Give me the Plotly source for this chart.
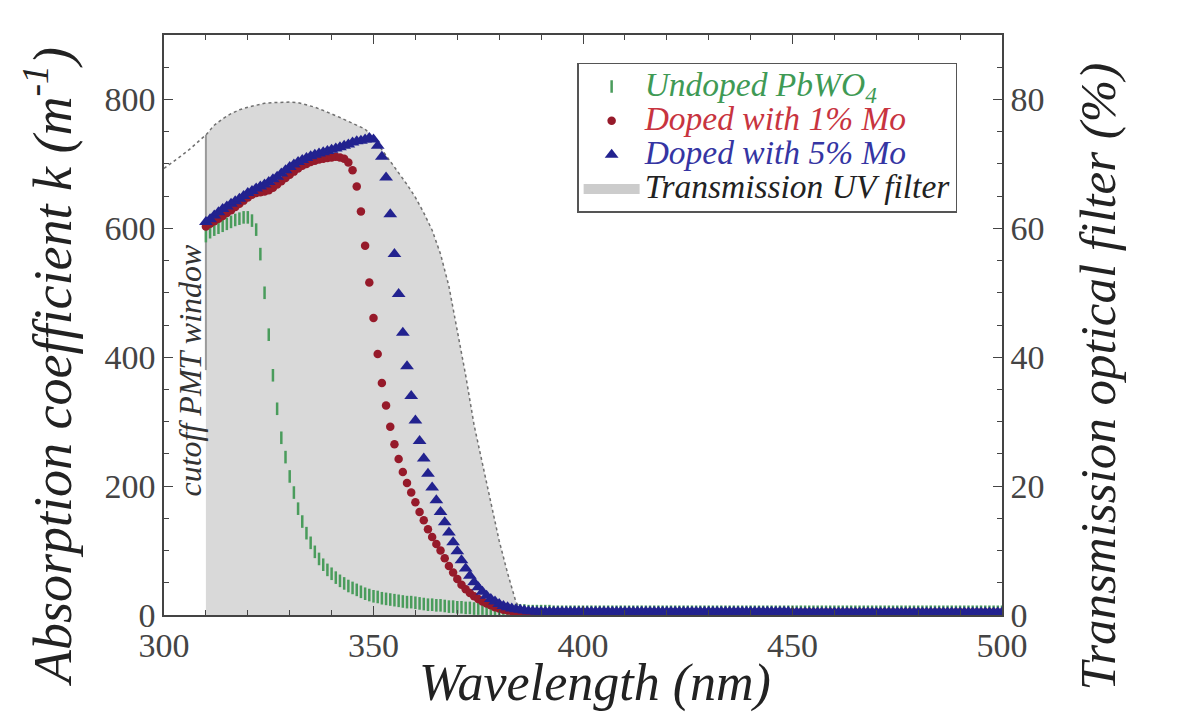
import plotly.graph_objects as go

# ---------------- data ----------------
wavelength = list(range(310, 501))  # 1 nm sampling grid, 310..500 nm

k_undoped = [
    588, 594, 598, 601, 604, 607, 610, 613, 615, 617,  # 310
    617, 612, 598, 560, 500, 435, 372, 320, 275, 245,  # 320
    215, 190, 165, 145, 127, 112, 98, 87, 78, 70,      # 330
    64, 58, 53, 49, 45, 42, 39, 36, 33, 31,            # 340
    29, 28, 26, 25, 24, 23, 22, 21, 20, 20,            # 350
    19, 18, 17, 16, 16, 15, 15, 14, 13, 13,            # 360
    12, 12, 11, 11, 10, 10, 10, 9, 9, 9,               # 370
    8, 8, 8, 7, 7, 7, 7, 6, 6, 6,                      # 380
    6, 6, 6, 5, 5, 5, 5, 5, 5, 5,                      # 390
    5, 5, 5, 5, 5, 5, 5, 5, 5, 5,                      # 400
    5, 5, 5, 5, 5, 5, 5, 5, 5, 5,                      # 410
    5, 5, 5, 5, 5, 5, 5, 5, 5, 5,                      # 420
    5, 5, 5, 5, 5, 5, 5, 5, 5, 5,                      # 430
    5, 5, 5, 5, 5, 5, 5, 5, 5, 5,                      # 440
    5, 5, 5, 5, 5, 5, 5, 5, 5, 5,                      # 450
    5, 5, 5, 5, 5, 5, 5, 5, 5, 5,                      # 460
    5, 5, 5, 5, 5, 5, 5, 5, 5, 5,                      # 470
    5, 5, 5, 5, 5, 5, 5, 5, 5, 5,                      # 480
    5, 5, 5, 5, 5, 5, 5, 5, 5, 5,                      # 490
    5,                                                 # 500
]

k_mo1 = [
    603, 607, 611, 615, 619, 624, 628, 633, 638, 643,  # 310
    648, 652, 655, 656, 657, 659, 663, 668, 673, 678,  # 320
    683, 688, 693, 697, 700, 703, 705, 707, 708, 709,  # 330
    710, 711, 710, 708, 702, 690, 665, 626, 573, 516,  # 340
    461, 405, 360, 325, 292, 265, 242, 222, 205, 190,  # 350
    175, 160, 147, 133, 121, 110, 100, 88, 76, 66,     # 360
    56, 47, 40, 34, 29, 25, 21, 18, 15, 12,            # 370
    10, 8, 7, 6, 5, 5, 5, 4, 4, 4,                     # 380
    4, 4, 4, 4, 4, 4, 4, 4, 4, 4,                      # 390
    4, 4, 4, 4, 4, 4, 4, 4, 4, 4,                      # 400
    4, 4, 4, 4, 4, 4, 4, 4, 4, 4,                      # 410
    4, 4, 4, 4, 4, 4, 4, 4, 4, 4,                      # 420
    4, 4, 4, 4, 4, 4, 4, 4, 4, 4,                      # 430
    4, 4, 4, 4, 4, 4, 4, 4, 4, 4,                      # 440
    4, 4, 4, 4, 4, 4, 4, 4, 4, 4,                      # 450
    4, 4, 4, 4, 4, 4, 4, 4, 4, 4,                      # 460
    4, 4, 4, 4, 4, 4, 4, 4, 4, 4,                      # 470
    4, 4, 4, 4, 4, 4, 4, 4, 4, 4,                      # 480
    4, 4, 4, 4, 4, 4, 4, 4, 4, 4,                      # 490
    4,                                                 # 500
]

k_mo5 = [
    610, 614, 620, 625, 630, 634, 638, 642, 646, 650,  # 310
    655, 658, 662, 665, 668, 672, 676, 680, 685, 690,  # 320
    695, 699, 703, 706, 709, 712, 714, 716, 718, 720,  # 330
    722, 724, 726, 728, 730, 733, 735, 736, 738, 740,  # 340
    738, 728, 711, 679, 622, 560, 498, 438, 386, 340,  # 350
    302, 270, 243, 219, 198, 178, 160, 144, 128, 113,  # 360
    99, 85, 72, 61, 51, 43, 36, 30, 25, 21,            # 370
    17, 14, 12, 10, 9, 8, 7, 6, 6, 5,                  # 380
    5, 5, 5, 5, 5, 5, 5, 5, 5, 5,                      # 390
    5, 5, 5, 5, 5, 5, 5, 5, 5, 5,                      # 400
    5, 5, 5, 5, 5, 5, 5, 5, 5, 5,                      # 410
    5, 5, 5, 5, 5, 5, 5, 5, 5, 5,                      # 420
    5, 5, 5, 5, 5, 5, 5, 5, 5, 5,                      # 430
    5, 5, 5, 5, 5, 5, 5, 5, 5, 5,                      # 440
    4, 4, 4, 4, 4, 4, 4, 4, 4, 4,                      # 450
    4, 4, 4, 4, 4, 4, 4, 4, 4, 4,                      # 460
    4, 4, 4, 4, 4, 4, 4, 4, 4, 4,                      # 470
    4, 4, 4, 4, 4, 4, 4, 4, 4, 4,                      # 480
    4, 4, 4, 4, 4, 4, 4, 4, 4, 4,                      # 490
    4,                                                 # 500
]

# UV filter transmission (%)
trans_wl = [300, 302, 304, 306, 308, 310, 312, 314, 316, 318,
            320, 322, 324, 326, 328, 330, 332, 334, 336, 338,
            340, 342, 344, 346, 348, 350, 352, 354, 356, 358,
            360, 362, 364, 366, 368, 370, 372, 374, 376, 378,
            380, 382, 384, 386]
trans_pct = [69.3, 70.2, 71.2, 72.2, 73.3, 74.5, 76.0, 77.0, 77.8, 78.4,
             78.8, 79.1, 79.4, 79.5, 79.6, 79.6, 79.5, 79.2, 78.8, 78.3,
             77.8, 77.2, 76.6, 76.0, 75.4, 74.0, 72.2, 70.4, 68.5, 66.8,
             64.8, 62.4, 59.7, 56.0, 51.0, 44.3, 37.2, 29.5, 23.5, 17.5,
             11.5, 6.5, 2.0, 0.0]

cutoff_nm = 310                 # PMT window cutoff
cutoff_line_pct = [38.0, 74.5]  # extent of the cutoff marker line (%)

x_ticks = [300, 350, 400, 450, 500]
k_ticks = [0, 200, 400, 600, 800]
t_ticks = [0, 20, 40, 60, 80]

# ---------------- styles ----------------
FONT = "'Liberation Serif', Tinos, 'Times New Roman', Times, 'DejaVu Serif', serif"
GREEN = "#4a9c5c"
RED = "#961a2a"
BLUE = "#22228f"
AXIS = "#444444"

fill_wl = [w for w in trans_wl if w >= cutoff_nm]
fill_pct = [p for w, p in zip(trans_wl, trans_pct) if w >= cutoff_nm]


def legend_label(text, color):
    return ("<span style='font-size:33.5px;color:%s'><i>%s</i></span>"
            % (color, text))


fig = go.Figure()

# transmission filter (primary y = right axis, drawn underneath)
fig.add_trace(go.Scatter(
    x=fill_wl, y=fill_pct, mode="lines", fill="tozeroy",
    fillcolor="#d9d9d9", line=dict(width=0, color="#d9d9d9"),
    showlegend=False, hoverinfo="skip", yaxis="y"))
fig.add_trace(go.Scatter(
    x=trans_wl, y=trans_pct, mode="lines",
    line=dict(color="#707070", width=1.5, dash="dot"),
    showlegend=False, hoverinfo="skip", yaxis="y"))
fig.add_trace(go.Scatter(
    x=[cutoff_nm, cutoff_nm], y=cutoff_line_pct, mode="lines",
    line=dict(color="#9a9a9a", width=2),
    showlegend=False, hoverinfo="skip", yaxis="y"))

# absorption data (y2 = left axis, overlaying, drawn on top)
fig.add_trace(go.Scatter(
    x=wavelength, y=k_undoped, mode="markers", yaxis="y2",
    name=legend_label("Undoped PbWO<sub>4</sub>", "#3f9a55"),
    marker=dict(symbol="line-ns", size=9, color=GREEN,
                line=dict(width=2.5, color=GREEN))))
fig.add_trace(go.Scatter(
    x=wavelength, y=k_mo1, mode="markers", yaxis="y2",
    name=legend_label("Doped with 1% Mo", "#c8343f"),
    marker=dict(symbol="circle", size=8.5, color=RED, line=dict(width=0))))
fig.add_trace(go.Scatter(
    x=wavelength, y=k_mo5, mode="markers", yaxis="y2",
    name=legend_label("Doped with 5% Mo", "#3535a3"),
    marker=dict(symbol="triangle-up", size=12, color=BLUE, line=dict(width=0))))
# legend entry for the filter
fig.add_trace(go.Scatter(
    x=[None], y=[None], mode="lines", yaxis="y",
    name=legend_label("Transmission UV filter", "#222222"),
    line=dict(color="#cccccc", width=10)))

fig.add_annotation(
    x=306.3, y=380, xref="x", yref="y2",
    text="<i>cutoff PMT window</i>", textangle=-90, showarrow=False,
    font=dict(family=FONT, size=32, color="#333333"))
fig.add_annotation(  # x-axis title
    x=0.514, y=-0.117, xref="paper", yref="paper", xanchor="center",
    yanchor="middle", text="<i>Wavelength (nm)</i>", showarrow=False,
    font=dict(family=FONT, size=52, color="#222222"))
fig.add_annotation(  # left y-axis title
    x=-0.137, y=0.428, xref="paper", yref="paper", xanchor="center",
    yanchor="middle", text="<i>Absorption coefficient k (m<sup>-1</sup>)</i>",
    textangle=-90, showarrow=False,
    font=dict(family=FONT, size=54, color="#222222"))
fig.add_annotation(  # right y-axis title
    x=1.115, y=0.412, xref="paper", yref="paper", xanchor="center",
    yanchor="middle", text="<i>Transmission optical filter (%)</i>",
    textangle=-90, showarrow=False,
    font=dict(family=FONT, size=51, color="#222222"))

tick_font = dict(family=FONT, size=34, color="#444444")
common = dict(ticks="inside", ticklen=9, tickwidth=1.2, tickcolor=AXIS,
              showline=True, linecolor=AXIS, linewidth=1.5, showgrid=False,
              zeroline=False, tickfont=tick_font, automargin=False)
fig.update_layout(
    width=1174, height=704,
    margin=dict(l=156, r=180, t=27, b=97),
    paper_bgcolor="white", plot_bgcolor="white",
    font=dict(family=FONT, color="#333333"),
    xaxis=dict(range=[300, 500], tickvals=x_ticks, mirror="ticks",
               ticklabelstandoff=-1,
               minor=dict(dtick=10, ticks="inside", ticklen=5, tickcolor=AXIS),
               **common),
    yaxis=dict(side="right", range=[0, 90], tickvals=t_ticks,
               minor=dict(dtick=5, ticks="inside", ticklen=5, tickcolor=AXIS),
               **common),
    yaxis2=dict(overlaying="y", side="left", range=[0, 900], tickvals=k_ticks,
                minor=dict(dtick=50, ticks="inside", ticklen=5, tickcolor=AXIS),
                **common),
    legend=dict(
        x=0.493, y=0.952, xanchor="left", yanchor="top",
        bgcolor="white", bordercolor="#555555", borderwidth=1.5,
        font=dict(family=FONT, size=24), itemwidth=56),
    showlegend=True,
)

fig.write_html("out.html")
